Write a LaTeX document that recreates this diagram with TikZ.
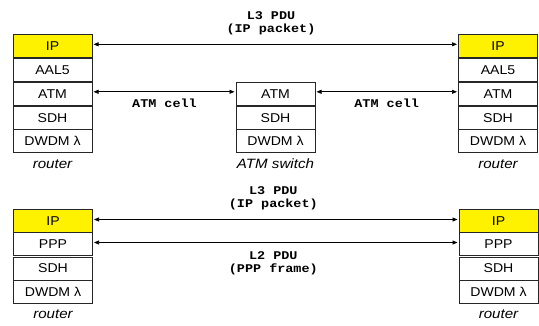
\documentclass[tikz,border=0pt]{standalone}
\usepackage{fontspec}
\newfontfamily\boxfont[FakeStretch=1.1]{Liberation Sans}
\newfontfamily\namefont[FakeStretch=1.12]{Liberation Sans}
\newfontfamily\pdufont[FakeStretch=1.14]{Liberation Mono}
\usetikzlibrary{positioning,arrows.meta}

\tikzset{
  layer/.style={draw=black!85, line width=0.8pt, minimum width=79pt, minimum height=23pt,
    inner sep=0pt, outer sep=0pt, font=\boxfont\fontsize{12.8}{14}\selectfont},
  iplayer/.style={layer, fill=yellow},
  pdu/.style={font=\pdufont\bfseries\fontsize{11.8}{13.2}\selectfont, align=center, inner sep=0pt},
  devname/.style={font=\namefont\itshape\fontsize{13.5}{15}\selectfont, inner sep=0pt},
  link/.style={>={Triangle[length=5pt,width=4pt]}, <->,
    line width=0.7pt, shorten <=1.5pt, shorten >=1.5pt}
}

\begin{document}
\begin{tikzpicture}[x=1pt,y=-1pt]
\useasboundingbox (0,0) rectangle (539,325);

% IP over ATM: two routers
\foreach \r/\x in {ra/13, rb/458.5} {
    \node[iplayer, anchor=north west] (\r-ip) at (\x,34.3) {IP};
    \node[layer, below=1pt of \r-ip] (\r-aal) {AAL5};
    \node[layer, below=1pt of \r-aal] (\r-atm) {ATM};
    \node[layer, below=1pt of \r-atm] (\r-sdh) {SDH};
    \node[layer, below=0pt of \r-sdh] (\r-wdm) {DWDM λ};
    \node[devname, below=7pt of \r-wdm] (\r-name) {router};
}

% ATM switch in the middle
\node[layer, anchor=north] (sw-atm) at (275.5,82.3) {ATM};
\node[layer, below=1pt of sw-atm] (sw-sdh) {SDH};
\node[layer, below=0pt of sw-sdh] (sw-wdm) {DWDM λ};
\node[devname, below=6.5pt of sw-wdm] (sw-name) {ATM switch};

% IP over SDH: two routers
\foreach \r/\x in {rc/13.5, rd/459} {
    \node[iplayer, anchor=north west] (\r-ip) at (\x,209.5) {IP};
    \node[layer, below=0pt of \r-ip] (\r-ppp) {PPP};
    \node[layer, below=1.5pt of \r-ppp] (\r-sdh) {SDH};
    \node[layer, below=0pt of \r-sdh] (\r-wdm) {DWDM λ};
    \node[devname, below=7pt of \r-wdm] (\r-name) {router};
}

% peer links
\draw[link] ([yshift=1.5pt]ra-ip.east) -- ([yshift=1.5pt]rb-ip.west);
\draw[link] ([yshift=2pt]ra-atm.east) -- ([yshift=2pt]sw-atm.west);
\draw[link] ([yshift=2pt]sw-atm.east) -- ([yshift=2pt]rb-atm.west);
\draw[link] ([yshift=1.5pt]rc-ip.east) -- ([yshift=1.5pt]rd-ip.west);
\draw[link] ([yshift=1.5pt]rc-ppp.east) -- ([yshift=1.5pt]rd-ppp.west);

% PDU labels
\node[pdu, anchor=north] (pdu-top) at (271,11.7) {L3 PDU\\(IP packet)};
\node[pdu, anchor=base] (cell-a) at (164.5,107.7) {ATM cell};
\node[pdu, anchor=base] (cell-b) at (386.7,107.7) {ATM cell};
\node[pdu, anchor=north] (pdu-l3) at (273.3,186.5) {L3 PDU\\(IP packet)};
\node[pdu, anchor=north] (pdu-l2) at (273.3,251.7) {L2 PDU\\(PPP frame)};
\end{tikzpicture}
\end{document}
